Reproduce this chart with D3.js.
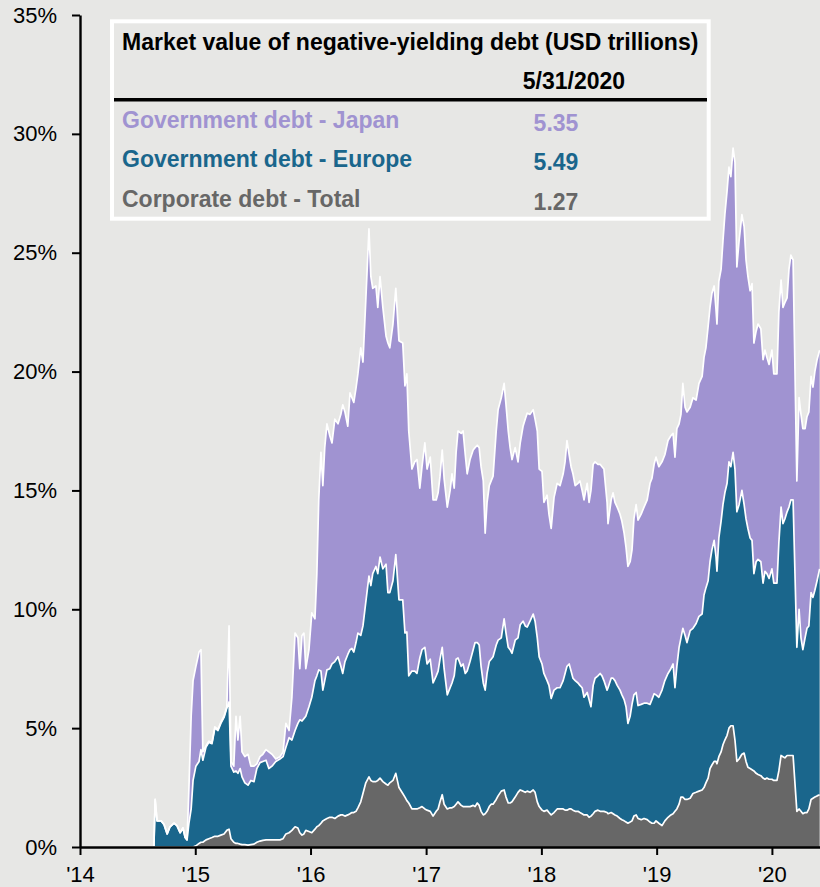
<!DOCTYPE html>
<html>
<head>
<meta charset="utf-8">
<script src="https://cdn.jsdelivr.net/npm/d3@7"></script>
<style>
  html, body { margin: 0; padding: 0; background: #e7e7e5; }
  svg { display: block; font-family: "Liberation Sans", Arial, Helvetica, sans-serif; }
</style>
</head>
<body>
<svg id="chart" width="820" height="887"></svg>
<script>
// Share of negative-yielding debt, % of global aggregate, stacked by segment
const dates = [
  "2014-01-01","2014-08-11","2014-08-23","2014-08-27","2014-09-02","2014-09-15","2014-09-24","2014-10-04","2014-10-13","2014-10-26","2014-11-04","2014-11-14","2014-11-23","2014-11-30","2014-12-06","2014-12-12","2014-12-19","2014-12-25",
  "2015-01-03","2015-01-13","2015-01-19","2015-01-25","2015-02-04","2015-02-13","2015-02-23","2015-03-04","2015-03-14","2015-03-23","2015-04-02","2015-04-11","2015-04-18","2015-04-24","2015-05-03","2015-05-10","2015-05-16","2015-05-23","2015-05-29","2015-06-07","2015-06-17","2015-06-26","2015-07-06","2015-07-15","2015-07-25","2015-08-03","2015-08-13","2015-08-22","2015-09-01","2015-09-13","2015-09-26","2015-10-06","2015-10-15","2015-10-25","2015-11-03","2015-11-13","2015-11-22","2015-11-28","2015-12-05","2015-12-11","2015-12-17","2015-12-27",
  "2016-01-05","2016-01-15","2016-01-21","2016-01-27","2016-02-03","2016-02-09","2016-02-15","2016-02-22","2016-03-02","2016-03-09","2016-03-18","2016-03-28","2016-04-06","2016-04-12","2016-04-19","2016-04-28","2016-05-05","2016-05-11","2016-05-17","2016-05-24","2016-05-30","2016-06-08","2016-06-15","2016-06-24","2016-07-04","2016-07-10","2016-07-16","2016-07-26","2016-08-01","2016-08-08","2016-08-17","2016-08-27","2016-09-02","2016-09-08","2016-09-18","2016-09-27","2016-10-07","2016-10-19","2016-10-26","2016-11-01","2016-11-07","2016-11-17","2016-11-26","2016-12-03","2016-12-12","2016-12-19","2016-12-28",
  "2017-01-04","2017-01-14","2017-01-23","2017-02-02","2017-02-08","2017-02-14","2017-02-21","2017-02-27","2017-03-09","2017-03-18","2017-03-24","2017-03-31","2017-04-06","2017-04-12","2017-04-22","2017-04-28","2017-05-05","2017-05-11","2017-05-20","2017-05-30","2017-06-05","2017-06-12","2017-06-18","2017-06-24","2017-07-01","2017-07-07","2017-07-13","2017-07-20","2017-07-26","2017-08-01","2017-08-11","2017-08-17","2017-08-27","2017-09-05","2017-09-11","2017-09-18","2017-09-24","2017-09-30","2017-10-10","2017-10-19","2017-10-26","2017-11-04","2017-11-11","2017-11-17","2017-11-26","2017-12-06","2017-12-12","2017-12-19","2017-12-25",
  "2018-01-03","2018-01-09","2018-01-19","2018-01-25","2018-02-01","2018-02-10","2018-02-20","2018-03-01","2018-03-11","2018-03-17","2018-03-23","2018-03-30","2018-04-05","2018-04-11","2018-04-18","2018-04-27","2018-05-03","2018-05-10","2018-05-16","2018-05-26","2018-06-01","2018-06-07","2018-06-14","2018-06-20","2018-06-29","2018-07-06","2018-07-12","2018-07-18","2018-07-28","2018-07-31","2018-08-10","2018-08-16","2018-08-22","2018-08-29","2018-09-07","2018-09-13","2018-09-20","2018-09-26","2018-10-02","2018-10-09","2018-10-15","2018-10-21","2018-10-28","2018-11-03","2018-11-13","2018-11-22","2018-12-02","2018-12-11","2018-12-17","2018-12-24","2018-12-30",
  "2019-01-08","2019-01-18","2019-01-27","2019-02-06","2019-02-15","2019-02-22","2019-02-28","2019-03-06","2019-03-13","2019-03-19","2019-03-25","2019-04-01","2019-04-07","2019-04-17","2019-04-26","2019-05-06","2019-05-15","2019-05-25","2019-05-31","2019-06-06","2019-06-13","2019-06-19","2019-06-25","2019-07-02","2019-07-08","2019-07-11","2019-07-17","2019-07-24","2019-07-30","2019-08-05","2019-08-12","2019-08-18","2019-08-24","2019-08-31","2019-09-06","2019-09-12","2019-09-19","2019-09-28","2019-10-05","2019-10-11","2019-10-17","2019-10-24","2019-10-30","2019-11-05","2019-11-12","2019-11-18","2019-11-27","2019-12-04","2019-12-10","2019-12-16","2019-12-23",
  "2020-01-01","2020-01-07","2020-01-17","2020-01-23","2020-01-30","2020-02-05","2020-02-11","2020-02-18","2020-02-24","2020-03-01","2020-03-08","2020-03-20","2020-03-27","2020-04-02","2020-04-08","2020-04-15","2020-04-21","2020-04-27","2020-05-04","2020-05-10","2020-05-16","2020-05-23","2020-05-31"
];

// Corporate debt – total (bottom layer)
const corporate = [
  0,0,0,0,0,0,0,0,0,0,0,0,0,0,0,0,0,0,
  0.05,0.15,0.2,0.2,0.3,0.35,0.4,0.45,0.45,0.5,0.55,0.7,0.75,0.35,0.2,0.15,0.15,0.12,0.1,0.1,0.08,0.1,0.12,0.2,0.25,0.28,0.3,0.3,0.3,0.3,0.3,0.35,0.55,0.6,0.7,0.85,0.8,0.6,0.5,0.55,0.7,0.65,
  0.6,0.75,0.85,0.9,1.0,1.1,1.15,1.2,1.25,1.25,1.2,1.3,1.35,1.35,1.3,1.35,1.4,1.45,1.45,1.5,1.65,1.9,2.25,2.7,2.95,2.8,2.75,2.75,2.8,2.9,2.75,2.65,2.6,2.7,2.8,3.1,2.5,2.25,2.1,1.95,1.85,1.6,1.6,1.6,1.65,1.7,1.6,
  1.55,1.5,1.3,1.5,1.6,1.9,2.2,1.8,1.6,1.65,1.65,1.7,1.8,1.9,1.75,1.7,1.7,1.7,1.7,1.75,1.7,1.85,1.75,1.5,1.35,1.4,1.5,1.7,1.8,1.8,2.0,2.15,2.35,2.4,2.1,1.85,1.85,1.9,2.1,2.3,2.4,2.35,2.3,2.35,2.3,2.4,2.3,1.9,1.7,
  1.55,1.5,1.55,1.45,1.35,1.45,1.6,1.6,1.6,1.55,1.55,1.6,1.6,1.55,1.5,1.5,1.45,1.4,1.35,1.35,1.25,1.3,1.4,1.5,1.55,1.5,1.5,1.5,1.45,1.4,1.45,1.4,1.35,1.3,1.2,1.15,1.1,1.05,1.0,1.05,1.1,1.3,1.35,1.2,1.15,1.2,1.15,1.05,1.0,1.0,1.1,
  1.0,0.9,1.1,1.25,1.35,1.4,1.5,1.6,1.8,2.1,2.1,2.0,2.0,2.05,2.25,2.3,2.35,2.4,2.5,2.7,2.9,3.3,3.45,3.6,3.6,3.5,3.8,4.0,4.3,4.5,4.7,5.0,5.1,5.1,4.5,3.6,3.7,3.9,3.95,3.6,3.35,3.3,3.25,3.2,3.1,3.05,3.0,2.9,2.85,2.9,2.85,
  2.85,2.8,2.8,3.2,3.85,3.8,3.75,3.85,3.85,3.85,3.85,1.5,1.6,1.5,1.4,1.45,1.45,1.6,2.0,2.05,2.1,2.15,2.2
];

// Government debt – Europe (middle layer)
const europe = [
  0,0,0,2.0,1.1,1.1,0.95,0.55,0.85,1.0,0.9,0.6,0.8,0.4,0.3,1.0,1.6,2.8,
  3.35,3.45,3.9,3.45,3.9,4.05,3.95,4.55,4.45,4.7,4.9,5.15,5.35,3.05,2.95,3.05,2.95,3.18,2.85,2.6,2.52,2.7,2.63,3.1,3.3,3.32,3.35,3.0,3.1,3.3,3.4,3.45,3.65,4.0,3.8,4.05,4.4,4.75,4.8,4.85,4.8,5.25,
  5.7,6.25,6.35,6.55,6.4,5.5,5.85,6.25,6.25,6.45,6.6,6.7,6.25,5.95,6.5,6.75,6.9,6.9,6.75,7.1,7.35,7.0,7.05,7.6,8.45,8.2,8.75,9.05,8.7,9.3,8.95,9.25,8.1,8.0,8.4,9.2,7.9,8.15,6.9,7.1,5.35,5.8,5.8,5.7,6.3,6.6,6.8,
  6.15,6.4,5.6,5.7,5.8,6.0,6.2,5.7,4.8,5.05,5.25,5.5,6.1,6.05,5.85,6.0,5.6,5.7,6.1,6.55,6.9,6.75,6.75,6.1,5.55,5.2,5.8,6.1,6.1,6.2,6.5,6.55,6.45,7.2,6.9,6.55,6.45,6.25,6.6,6.5,6.95,7.15,7.0,6.9,7.2,7.4,7.2,6.9,6.3,
  6.15,5.8,5.45,5.35,4.9,5.15,5.1,5.1,5.4,5.75,6.05,6.1,5.8,5.55,5.5,5.4,5.35,5.3,4.95,5.15,4.95,4.6,5.4,5.6,5.65,5.8,5.7,5.5,5.15,5.3,5.65,5.7,5.65,5.5,5.4,5.25,5.1,4.85,4.2,4.45,4.9,5.1,5.15,4.75,4.85,4.85,4.9,4.95,5.2,5.45,5.3,
  5.3,5.7,5.9,6.05,6.15,6.3,5.2,6.0,6.6,6.7,7.1,6.9,6.6,7.05,6.95,7.1,7.35,7.4,8.1,8.2,8.3,8.7,9.05,9.3,8.6,8.1,9.2,9.7,10.1,10.4,10.6,11.2,10.9,11.5,11.4,10.5,10.7,11.1,10.45,10.2,10.05,9.7,9.65,8.3,8.9,9.05,9.0,8.2,8.75,8.6,8.45,
  8.85,8.3,8.3,9.6,10.45,9.8,10.05,10.25,10.45,10.75,10.75,6.9,8.4,7.3,6.9,7.35,7.75,7.7,8.7,8.45,8.7,9.05,9.5
];

// Government debt – Japan (top layer)
const japan = [
  0,0,0,0,0,0,0,0,0,0,0,0,0,0,0,1.5,3.9,4.2,
  4.2,4.6,4.2,0.35,0.05,0.05,0.05,0.05,0.05,0.05,0.05,0.05,3.2,0.2,0.25,2.3,1.4,2.2,1.05,1.1,1.3,0.6,0.65,0.2,0.25,0.3,0.45,0.7,0.5,0.1,0.1,0.2,1.0,0.3,1.8,4.1,3.6,2.15,3.6,3.6,2.0,2.4,
  3.55,2.6,4.3,7.15,9.2,8.6,9.8,10.35,9.8,9.3,10.2,9.8,10.6,11.3,10.5,9.6,10.8,10.55,10.5,10.7,10.9,12.1,11.1,12.7,14.6,13.0,12.0,11.8,11.2,11.8,11.0,9.6,10.5,10.3,10.8,11.2,10.9,10.8,10.4,10.85,10.3,8.5,8.8,9.0,7.15,7.7,8.6,
  8.2,8.5,7.7,7.4,7.5,7.7,8.3,8.0,7.9,8.3,8.8,7.9,8.7,9.55,9.8,9.8,9.2,8.3,8.5,8.4,8.2,8.3,8.3,8.4,8.5,6.6,7.2,7.4,7.5,7.6,9.0,9.7,10.1,9.9,9.6,9.1,8.5,8.15,8.1,7.4,7.65,8.2,8.7,9.0,8.7,8.6,8.5,8.7,7.9,
  8.1,7.2,7.8,7.2,7.15,8.1,8.6,8.5,8.7,8.9,9.5,8.8,8.6,8.6,8.2,8.4,8.6,8.3,8.3,8.8,8.3,9.1,9.3,9.1,8.9,8.8,8.8,8.9,7.9,6.9,7.5,7.8,7.5,7.5,7.4,7.3,7.0,6.7,6.6,6.5,6.5,7.4,7.9,7.8,8.0,8.25,8.55,9.3,9.3,9.65,10.0,
  9.7,9.6,9.5,9.8,9.8,9.7,9.7,10.0,9.4,9.4,10.3,9.6,9.7,9.4,9.7,9.4,9.8,10.0,10.0,10.1,10.7,10.7,10.8,10.7,10.4,10.4,10.8,10.6,11.1,11.7,12.3,12.4,12.2,12.8,12.9,10.3,11.1,11.6,11.7,10.9,10.6,10.4,10.8,9.7,9.7,9.9,9.8,9.4,9.3,9.1,9.0,
  9.2,8.8,8.8,9.7,9.55,9.1,9.1,9.0,10.0,10.3,10.1,7.0,8.9,9.4,9.3,8.8,8.9,9.0,9.1,8.85,9.2,9.3,9.2
];

const yTicks = [0, 5, 10, 15, 20, 25, 30, 35];
const xTickYears = [2014, 2015, 2016, 2017, 2018, 2019, 2020];

const legendTitle = "Market value of negative-yielding debt (USD trillions)";
const legendDate = "5/31/2020";
const legendLabels = ["Government debt - Japan", "Government debt - Europe", "Corporate debt - Total"];
const legendValues = ["5.35", "5.49", "1.27"];

// ---------------------------------------------------------------------------
const svg = d3.select("#chart");
const parse = d3.timeParse("%Y-%m-%d");

const colors = { japan: "#a093d1", europe: "#1a668c", corporate: "#676767" };
const keys = ["corporate", "europe", "japan"];

const rows = dates.map((d, i) => ({
  date: parse(d),
  corporate: corporate[i],
  europe: europe[i],
  japan: japan[i]
}));

const x = d3.scaleTime()
  .domain([parse("2014-01-01"), parse("2020-05-31")])
  .range([80, 819.6]);

const y = d3.scaleLinear()
  .domain([0, 35])
  .range([847, 15]);

const stacked = d3.stack().keys(keys)(rows);

const area = d3.area()
  .x(d => x(d.data.date))
  .y0(d => y(d[0]))
  .y1(d => y(d[1]));

const edge = d3.line()
  .x(d => x(d.data.date))
  .y(d => y(d[1]));

const plot = svg.append("g");

plot.selectAll("path.layer")
  .data(stacked)
  .join("path")
  .attr("class", "layer")
  .attr("fill", s => colors[s.key])
  .attr("d", area);

plot.selectAll("path.edge")
  .data(stacked)
  .join("path")
  .attr("class", "edge")
  .attr("fill", "none")
  .attr("stroke", "#ffffff")
  .attr("stroke-width", 1.7)
  .attr("stroke-linejoin", "round")
  .attr("d", edge);

// Axes
const yAxis = d3.axisLeft(y)
  .tickValues(yTicks)
  .tickSize(8)
  .tickSizeOuter(0)
  .tickPadding(15)
  .tickFormat(d => d + "%");

const gy = svg.append("g")
  .attr("transform", "translate(80,0)")
  .call(yAxis);

const xAxis = d3.axisBottom(x)
  .tickValues(xTickYears.map(yr => new Date(yr, 0, 1)))
  .tickSize(8)
  .tickSizeOuter(0)
  .tickPadding(11)
  .tickFormat(d3.timeFormat("'%y"));

const gx = svg.append("g")
  .attr("transform", "translate(0,847)")
  .call(xAxis);

[gx, gy].forEach(g => {
  g.select(".domain").attr("stroke", "#000").attr("stroke-width", 2.4);
  g.selectAll(".tick line").attr("stroke", "#000").attr("stroke-width", 2);
  g.selectAll(".tick text")
    .attr("fill", "#000")
    .style("font-size", "22px")
    .style("font-family", "\"Liberation Sans\", Arial, sans-serif");
});

// Legend table
const legend = svg.append("g");

legend.append("rect")
  .attr("x", 112)
  .attr("y", 21.3)
  .attr("width", 596.7)
  .attr("height", 197.4)
  .attr("fill", "none")
  .attr("stroke", "#ffffff")
  .attr("stroke-width", 4);

legend.append("text")
  .attr("x", 122)
  .attr("y", 50)
  .attr("font-size", 23)
  .attr("font-weight", "bold")
  .attr("fill", "#000")
  .text(legendTitle);

legend.append("text")
  .attr("x", 574)
  .attr("y", 89)
  .attr("text-anchor", "middle")
  .attr("font-size", 23)
  .attr("font-weight", "bold")
  .attr("fill", "#000")
  .text(legendDate);

legend.append("line")
  .attr("x1", 114)
  .attr("x2", 707)
  .attr("y1", 99.7)
  .attr("y2", 99.7)
  .attr("stroke", "#000")
  .attr("stroke-width", 3.5);

const legendColors = [colors.japan, colors.europe, colors.corporate];
const labelBaselines = [128, 167, 207];

legend.selectAll("text.row-label")
  .data(legendLabels)
  .join("text")
  .attr("class", "row-label")
  .attr("x", 122)
  .attr("y", (d, i) => labelBaselines[i])
  .attr("font-size", 23)
  .attr("font-weight", "bold")
  .attr("fill", (d, i) => legendColors[i])
  .text(d => d);

legend.selectAll("text.row-value")
  .data(legendValues)
  .join("text")
  .attr("class", "row-value")
  .attr("x", 556)
  .attr("y", (d, i) => labelBaselines[i] + 3)
  .attr("text-anchor", "middle")
  .attr("font-size", 23)
  .attr("font-weight", "bold")
  .attr("fill", (d, i) => legendColors[i])
  .text(d => d);
</script>
</body>
</html>
